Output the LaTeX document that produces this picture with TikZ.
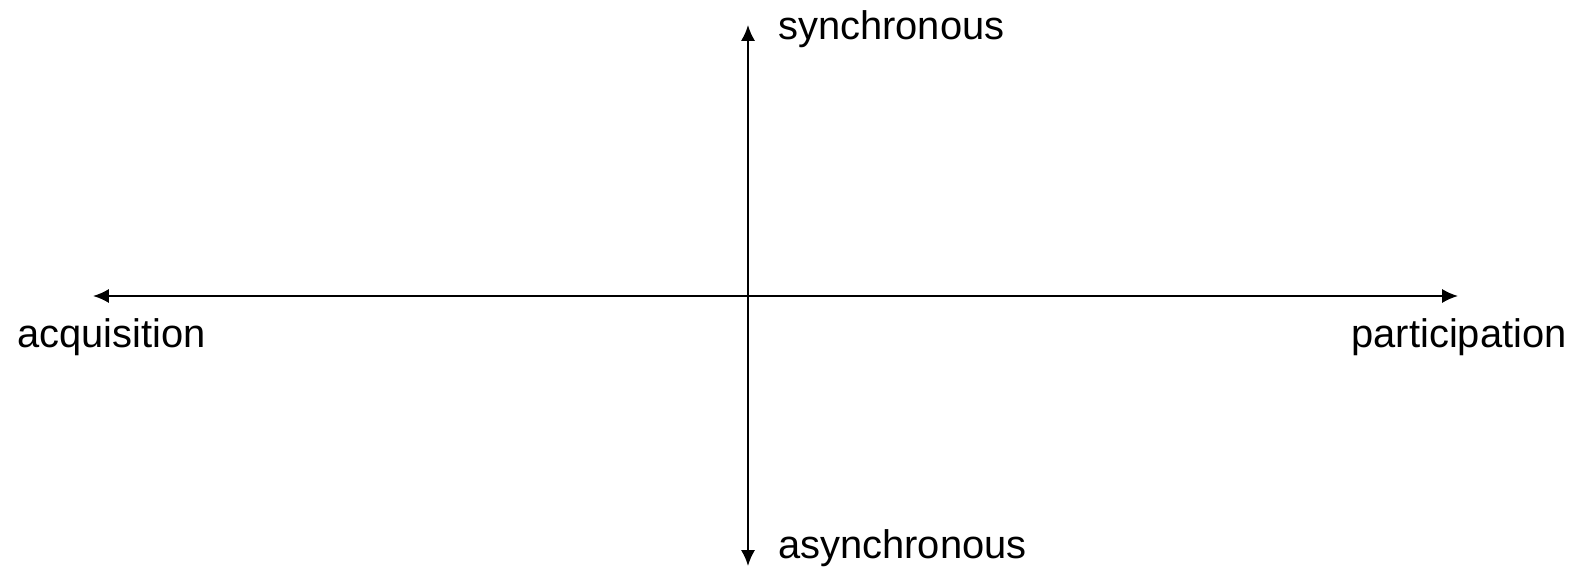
\documentclass[tikz,border=0pt]{standalone}
\usepackage{fontspec}
\setmainfont{Liberation Sans}
\usetikzlibrary{arrows.meta}
\begin{document}
\begin{tikzpicture}[x=0.02cm, y=-0.02cm,
  axis/.style={line width=1.2pt, {Latex[length=9pt,width=8pt]}-{Latex[length=9pt,width=8pt]}},
  lbl/.style={inner sep=0pt, anchor=base west, font=\fontsize{22.7}{27}\selectfont}]
\useasboundingbox (0,0) rectangle (1575,567);
\coordinate (top) at (748,25);
\coordinate (bottom) at (748,566);
\coordinate (left) at (93,296);
\coordinate (right) at (1458,296);
\draw[axis] (bottom) -- (top);
\draw[axis] (left) -- (right);
\node[lbl] (sync) at (778,40) {synchronous};
\node[lbl] (async) at (778,558) {asynchronous};
\node[lbl] (acq) at (17,348) {acquisition};
\node[lbl, anchor=base east] (part) at (1567,348) {participation};
\end{tikzpicture}
\end{document}
